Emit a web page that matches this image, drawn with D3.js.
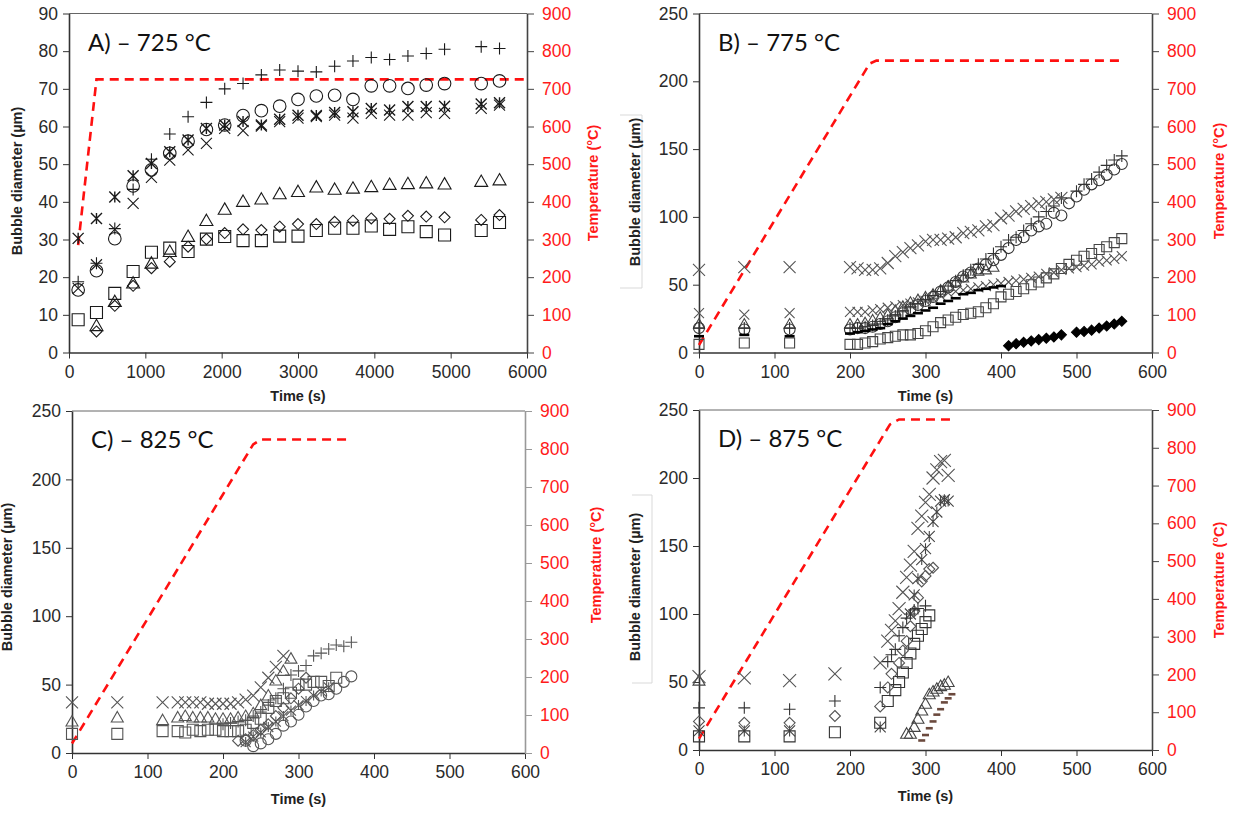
<!DOCTYPE html>
<html>
<head>
<meta charset="utf-8">
<script src="https://cdn.jsdelivr.net/npm/d3@7"></script>
<style>
  body { margin: 0; background: #fff; }
  svg { display: block; }
  .tick text { font-family: "Liberation Sans", Arial, sans-serif; font-size: 17.5px; }
</style>
</head>
<body>
<svg id="chart" width="1233" height="813"></svg>
<script>
// ---------- data: panel A (725 °C) ----------
var aTime = [120,360,600,840,1080,1320,1560,1800,2040,2280,2520,2760,3000,3240,3480,3720,3960,4200,4440,4680,4920,5400,5640];
var aPlus = [18.8,23.7,32.9,43.3,51.3,58.0,62.6,66.4,70.0,71.4,73.7,75.0,74.7,74.5,76.0,77.4,78.3,77.8,78.7,79.4,80.5,81.2,80.7];
var aCircle = [16.6,21.7,30.2,44.2,48.5,52.9,56.1,59.2,60.4,62.9,64.2,65.4,67.2,68.1,68.3,67.2,70.8,70.8,70.1,71.0,71.4,71.4,72.1];
var aStar = [30.3,35.6,41.3,46.9,50.2,53.3,56.4,59.5,60.4,61.3,60.4,61.9,63.0,62.9,63.7,63.9,64.8,64.4,65.3,65.3,65.4,66.0,66.3];
var aCross = [17.0,23.3,32.7,39.6,46.5,51.1,53.8,55.5,59.5,58.9,60.1,61.3,62.2,62.6,63.0,62.2,63.5,63.0,63.0,63.7,63.5,64.8,65.7];
var aTri = [null,7.1,13.5,18.4,23.7,26.8,30.8,35.0,38.0,40.1,40.7,42.1,42.7,43.9,43.3,43.6,44.0,44.6,44.8,45.0,44.7,45.4,45.8];
var aDiamond = [null,5.6,12.4,17.7,22.4,24.1,28.1,30.1,31.7,32.7,32.5,33.4,34.1,34.1,34.7,35.0,35.6,35.5,36.3,36.1,35.9,35.2,36.5];
var aSquare = [8.7,10.6,15.7,21.5,26.6,27.7,26.8,30.1,30.8,29.7,29.7,30.9,30.9,32.4,33.0,33.0,33.6,32.7,33.4,32.1,31.2,32.4,34.5];
var aTempTime = [120, 360, 6000];
var aTemp = [285, 725, 725];

// ---------- data: panel B (775 °C) ----------
var bTime = [0,60,120,200,210,220,230,240,250,260,270,280,290,300,310,320,330,340,350,360,370,380,390,400,410,420,430,440,450,460,470,480,490,500,510,520,530,540,550,560];
var bCrossHigh = [61,63,63,63,62,61,61,62,66,71,74,77,79,82,83,83,84,85,88,89,90,93,94,99,101,104,106,108,110,111,113,114,null,null,null,null,null,null,null,null];
var bPlus = [18,18,18,18,18,19,20,21,24,27,30,33,36,39,42,45,49,53,57,61,65,69,73,78,83,85,90,95,100,104,108,114,null,119,124,128,133,138,142,145];
var bCircle = [18,17,17,17,18,18,19,21,23,26,29,32,35,38,41,45,48,52,56,59,62,65,68,72,77,83,85,90,93,95,103,101,110,115,120,124,127,131,135,139];
var bTri = [21,21,21,21,21,22,24,26,28,31,34,37,39,41,43,46,49,52,55,58,60,61,63,null,null,null,null,null,null,null,null,null,null,null,null,null,null,null,null,null];
var bCrossLow = [29,28,29,30,30,30,31,32,33,34,35,36,37,38,40,42,44,45,46,47,48,49,50,51,52,53,54,55,56,58,59,61,62,63,64,65,67,68,69,71];
var bDash = [12,13,12,14,15,16,17,18,21,23,25,27,29,31,33,36,38,40,43,44,46,47,48,49,null,null,null,null,null,null,null,null,null,null,null,null,null,null,null,null];
var bSquare = [6,7,7,6,6,7,8,10,11,12,13,13,14,16,19,22,24,26,28,29,30,33,36,41,43,45,47,50,52,55,58,62,65,68,71,73,76,78,81,84];
var bDiamondFill = [null,null,null,null,null,null,null,null,null,null,null,null,null,null,null,null,null,null,null,null,null,null,null,null,5,6.5,7.5,8.5,9.5,10.5,11.5,13,null,15,15.5,16.5,18,19.5,21,23];
var bTempTime = [0, 226, 235, 562];
var bTemp = [20, 767, 775, 775];

// ---------- data: panel C (825 °C) ----------
var cTime = [0,60,120,140,150,160,170,180,190,200,210,220,230,240,250,260,270,280,290,300,310,320,330,340,350,360,370];
var cCross = [37,37,37,37,37,37,37,36,36,36,36,37,39,42,48,55,63,71,null,null,null,null,null,null,null,null,null];
var cTri = [23,26,24,26,27,26,26,26,25,25,25,26,27,29,35,42,53,60,69,null,null,null,null,null,null,null,null];
var cSquare = [14,14,16,16,15,17,16,17,17,16,16,16,17,22,25,33,38,40,44,50,50,52,52,49,55,null,null];
var cPlus = [null,null,null,null,null,null,null,null,null,21,22,23,24,27,30,35,40,47,57,60,64,71,73,76,79,78,81];
var cDiamond = [null,null,null,null,null,null,null,null,null,null,null,9,10,13,17,21,27,33,40,47,55,null,null,null,null,null,null];
var cStar = [null,null,null,null,null,null,null,null,null,null,null,null,8,12,15,19,23,27,31,35,38,42,45,48,null,null,null];
var cCircle = [null,null,null,null,null,null,null,null,null,null,null,null,9,5,7,10,14,20,23,28,34,38,42,43,47,52,56];
var cTempTime = [0, 240, 250, 365];
var cTemp = [25, 812, 825, 825];

// ---------- data: panel D (875 °C) ----------
var dTime = [0,60,120,180,240,245,250,255,260,265,270,275,280,285,290,295,300,305,310,315,320,325,330,335];
var dCross = [54,53,51,56,64,null,80,88,95,104,116,127,136,146,163,172,182,188,200,206,212,213,202,null];
var dStar = [14,14,14,null,17,null,null,null,null,null,null,null,100,114,126,140,148,157,168,175,183,184,183,null];
var dPlus = [31,31,30,36,46,null,65,70,74,84,90,97,100,103,104,null,106,null,null,null,null,null,null,null];
var dDiamond = [21,20,20,25,32,null,46,56,null,64,73,80,91,102,112,124,128,133,134,null,null,null,null,null];
var dSquare = [10,10,10,13,20,null,36,null,44,50,57,64,71,78,84,89,94,99,null,null,null,null,null,null];
var dTri = [51,null,null,null,null,null,null,null,null,null,null,12,12,17,23,29,34,41,43,45,47,48,50,null];
var dDash = [null,null,null,null,null,null,null,null,null,null,null,null,null,null,null,7,11,16,21,26,30,35,38,41];
var dTempTime = [0, 253, 265, 336];
var dTemp = [30, 862, 875, 875];

// ---------- tick labels ----------
var xTicksLong = [0,1000,2000,3000,4000,5000,6000];
var xTicksShort = [0,100,200,300,400,500,600];
var yTicksA = [0,10,20,30,40,50,60,70,80,90];
var yTicksBig = [0,50,100,150,200,250];
var tempTicks = [0,100,200,300,400,500,600,700,800,900];

var svg = d3.select("#chart");
var fmt = d3.format("d");

function markerPath(type, s) {
  switch (type) {
    case "circle":
      return "M" + s + ",0A" + s + "," + s + " 0 1,1 " + (-s) + ",0A" + s + "," + s + " 0 1,1 " + s + ",0Z";
    case "square":
      return "M" + (-s) + "," + (-s) + "H" + s + "V" + s + "H" + (-s) + "Z";
    case "triangle":
      return "M0," + (-s) + "L" + s + "," + (s * 0.75) + "H" + (-s) + "Z";
    case "diamond":
    case "diamondFill":
      return "M0," + (-s) + "L" + s + ",0L0," + s + "L" + (-s) + ",0Z";
    case "plus":
      return "M" + (-s) + ",0H" + s + "M0," + (-s) + "V" + s;
    case "cross":
      return "M" + (-s) + "," + (-s) + "L" + s + "," + s + "M" + (-s) + "," + s + "L" + s + "," + (-s);
    case "star":
      return "M" + (-s) + "," + (-s) + "L" + s + "," + s + "M" + (-s) + "," + s + "L" + s + "," + (-s) + "M0," + (-s) + "V" + s;
    case "dash":
      return "M" + (-s) + ",0H" + s;
  }
}

function drawPanel(p) {
  var x = d3.scaleLinear().domain([0, p.xMax]).range([p.x0, p.x1]);
  var y = d3.scaleLinear().domain([0, p.yMax]).range([p.y1, p.y0]);
  var yT = d3.scaleLinear().domain([0, 900]).range([p.y1, p.y0]);
  var g = svg.append("g");

  // frame top
  g.append("line").attr("x1", p.x0).attr("x2", p.x1).attr("y1", p.y0).attr("y2", p.y0)
    .attr("stroke", "#666").attr("stroke-width", 1);

  var ax = g.append("g").attr("transform", "translate(0," + p.y1 + ")")
    .call(d3.axisBottom(x).tickValues(p.xTicks).tickFormat(fmt).tickSize(6).tickSizeOuter(0).tickPadding(7));
  var al = g.append("g").attr("transform", "translate(" + p.x0 + ",0)")
    .call(d3.axisLeft(y).tickValues(p.yTicks).tickFormat(fmt).tickSize(6).tickSizeOuter(0).tickPadding(5));
  var ar = g.append("g").attr("transform", "translate(" + p.x1 + ",0)")
    .call(d3.axisRight(yT).tickValues(tempTicks).tickFormat(fmt).tickSize(7).tickSizeOuter(0).tickPadding(8));

  [ax, al].forEach(function (a) {
    a.select(".domain").attr("stroke", "#333").attr("stroke-width", 1.6);
    a.selectAll(".tick line").attr("stroke", "#333");
    a.selectAll(".tick text").attr("fill", "#2a2a2a");
  });
  ar.select(".domain").attr("stroke", p.rightColor).attr("stroke-width", 1.6);
  ar.selectAll(".tick line").attr("stroke", p.rightColor);
  ar.selectAll(".tick text").attr("fill", "#ff1a1a");

  // axis titles
  var fTitle = '"Liberation Sans", Arial, sans-serif';
  g.append("text").attr("x", (p.x0 + p.x1) / 2).attr("y", p.xTitleY)
    .attr("text-anchor", "middle").attr("font-family", fTitle).attr("font-weight", "bold")
    .attr("font-size", 14.5).attr("fill", "#222").text("Time (s)");
  g.append("text").attr("transform", "translate(" + p.lTitleX + "," + p.lTitleY + ") rotate(-90)")
    .attr("text-anchor", "middle").attr("font-family", fTitle).attr("font-weight", "bold")
    .attr("font-size", 14.5).attr("fill", "#222").text("Bubble diameter (µm)");
  g.append("text").attr("transform", "translate(" + p.rTitleX + "," + p.rTitleY + ") rotate(-90)")
    .attr("text-anchor", "middle").attr("font-family", fTitle).attr("font-weight", "bold")
    .attr("font-size", 14.5).attr("fill", "#ff1a1a").text("Temperature (°C)");

  // panel label
  g.append("text").attr("x", p.x0 + 19).attr("y", p.y0 + 37)
    .attr("font-family", "Lato, 'Open Sans', sans-serif").attr("font-size", 24).attr("fill", "#111")
    .text(p.label);

  // temperature profile
  var line = d3.line().x(function (d) { return x(d[0]); }).y(function (d) { return yT(d[1]); });
  g.append("path").datum(d3.zip(p.tempTime, p.temp)).attr("d", line)
    .attr("fill", "none").attr("stroke", "#ff1010").attr("stroke-width", 2.6)
    .attr("stroke-dasharray", "9,6");

  // bubble series
  p.series.forEach(function (s) {
    var pts = d3.zip(p.time, s.vals).filter(function (d) { return d[1] != null; });
    g.append("g").selectAll("path").data(pts).enter().append("path")
      .attr("transform", function (d) { return "translate(" + x(d[0]) + "," + y(d[1]) + ")"; })
      .attr("d", markerPath(s.type, s.size))
      .attr("fill", s.type === "diamondFill" ? "#000" : "none")
      .attr("stroke", s.color)
      .attr("stroke-width", s.width || 1.1);
  });
}

// light bracket lines around some left titles
svg.append("path").attr("d", "M620,115H642V288H620").attr("fill", "none").attr("stroke", "#d9d9d9");
svg.append("path").attr("d", "M632,495H652V683H632").attr("fill", "none").attr("stroke", "#d9d9d9");

drawPanel({
  label: "A) \u2013 725 °C", x0: 69, x1: 527, y0: 13.5, y1: 352.5,
  xMax: 6000, yMax: 90, xTicks: xTicksLong, yTicks: yTicksA, rightColor: "#444",
  xTitleY: 401, lTitleX: 22, lTitleY: 181, rTitleX: 598, rTitleY: 183,
  time: aTime, tempTime: aTempTime, temp: aTemp,
  series: [
    { vals: aSquare, type: "square", size: 6, color: "#1a1a1a" },
    { vals: aTri, type: "triangle", size: 6.5, color: "#1a1a1a" },
    { vals: aDiamond, type: "diamond", size: 5.5, color: "#1a1a1a" },
    { vals: aCircle, type: "circle", size: 6.3, color: "#1a1a1a" },
    { vals: aCross, type: "cross", size: 5.5, color: "#1a1a1a" },
    { vals: aStar, type: "star", size: 5.5, color: "#1a1a1a", width: 1.4 },
    { vals: aPlus, type: "plus", size: 6, color: "#1a1a1a" }
  ]
});

drawPanel({
  label: "B) \u2013 775 °C", x0: 699, x1: 1152, y0: 13.5, y1: 352.5,
  xMax: 600, yMax: 250, xTicks: xTicksShort, yTicks: yTicksBig, rightColor: "#444",
  xTitleY: 401, lTitleX: 640, lTitleY: 192, rTitleX: 1224, rTitleY: 181,
  time: bTime, tempTime: bTempTime, temp: bTemp,
  series: [
    { vals: bSquare, type: "square", size: 5, color: "#444" },
    { vals: bTri, type: "triangle", size: 5.5, color: "#444" },
    { vals: bCircle, type: "circle", size: 5.5, color: "#333" },
    { vals: bCrossLow, type: "cross", size: 5, color: "#555" },
    { vals: bPlus, type: "plus", size: 6, color: "#333" },
    { vals: bCrossHigh, type: "cross", size: 6, color: "#555" },
    { vals: bDash, type: "dash", size: 5, color: "#000", width: 2.6 },
    { vals: bDiamondFill, type: "diamondFill", size: 5, color: "#000" }
  ]
});

drawPanel({
  label: "C) \u2013 825 °C", x0: 72, x1: 525, y0: 411, y1: 753,
  xMax: 600, yMax: 250, xTicks: xTicksShort, yTicks: yTicksBig, rightColor: "#999",
  xTitleY: 804, lTitleX: 12, lTitleY: 577, rTitleX: 601, rTitleY: 565,
  time: cTime, tempTime: cTempTime, temp: cTemp,
  series: [
    { vals: cSquare, type: "square", size: 5.5, color: "#555" },
    { vals: cTri, type: "triangle", size: 6, color: "#555" },
    { vals: cCross, type: "cross", size: 6, color: "#555" },
    { vals: cDiamond, type: "diamond", size: 5.5, color: "#555" },
    { vals: cStar, type: "star", size: 5, color: "#555" },
    { vals: cCircle, type: "circle", size: 5.5, color: "#555" },
    { vals: cPlus, type: "plus", size: 6, color: "#555" }
  ]
});

drawPanel({
  label: "D) \u2013 875 °C", x0: 699, x1: 1152, y0: 410, y1: 750,
  xMax: 600, yMax: 250, xTicks: xTicksShort, yTicks: yTicksBig, rightColor: "#444",
  xTitleY: 801, lTitleX: 640, lTitleY: 587, rTitleX: 1224, rTitleY: 580,
  time: dTime, tempTime: dTempTime, temp: dTemp,
  series: [
    { vals: dTri, type: "triangle", size: 6, color: "#444" },
    { vals: dStar, type: "star", size: 5.5, color: "#444" },
    { vals: dSquare, type: "square", size: 5.5, color: "#333" },
    { vals: dDiamond, type: "diamond", size: 5.5, color: "#555" },
    { vals: dPlus, type: "plus", size: 6, color: "#333" },
    { vals: dCross, type: "cross", size: 6.5, color: "#555" },
    { vals: dDash, type: "dash", size: 3.5, color: "#6b4a3e", width: 2.6 }
  ]
});
</script>
</body>
</html>
